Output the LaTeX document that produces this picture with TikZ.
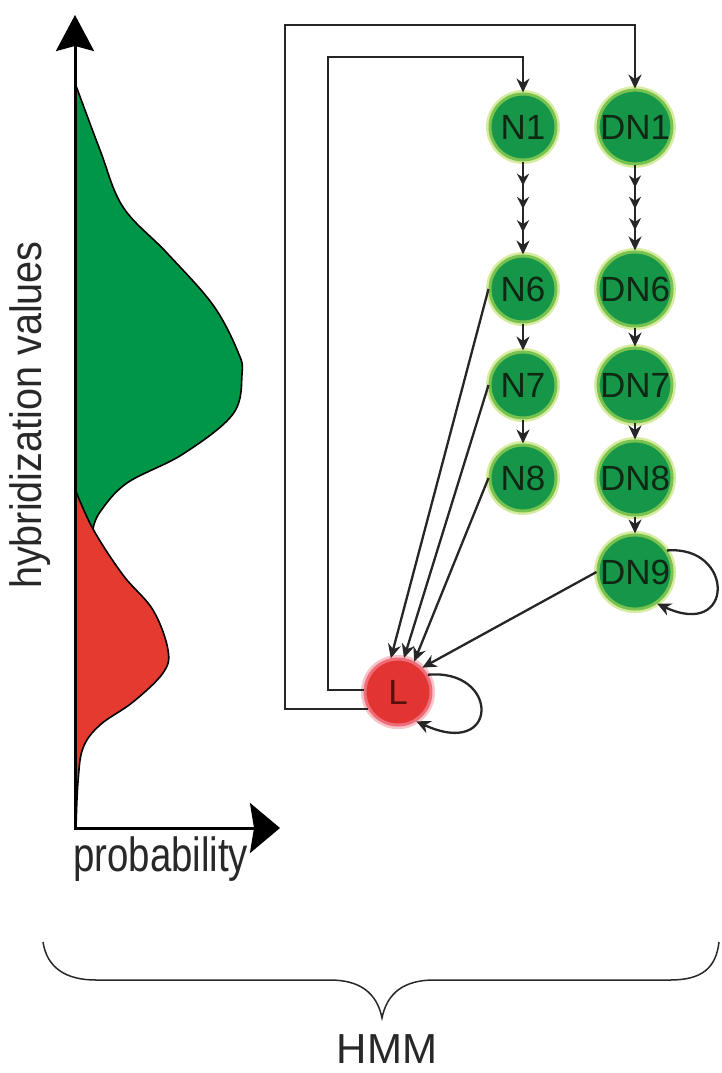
\documentclass[tikz,border=0pt]{standalone}
\usepackage{fontspec}
\setmainfont{Liberation Sans}
\usepackage{graphicx}
\usetikzlibrary{arrows.meta,decorations.markings}
\definecolor{nodegreen}{RGB}{22,150,72}
\definecolor{haloA}{RGB}{120,195,80}
\definecolor{haloB}{RGB}{215,236,160}
\definecolor{curvegreen}{RGB}{0,150,72}
\definecolor{curvered}{RGB}{228,58,48}
\definecolor{nodered}{RGB}{226,52,50}
\definecolor{haloR}{RGB}{238,110,120}
\definecolor{haloRB}{RGB}{250,195,205}
\definecolor{nodetext}{RGB}{15,40,20}
\definecolor{ltext}{RGB}{90,15,15}
\definecolor{labtext}{RGB}{40,40,40}
\begin{document}
\begin{tikzpicture}[x=1pt,y=-1pt,
  st/.style={circle, minimum size=66pt, inner sep=0pt, fill=nodegreen, draw=haloA,
    line width=3pt, preaction={draw=haloB, line width=8pt},
    font=\fontsize{35}{40}\selectfont, text=nodetext},
  lst/.style={st, fill=nodered, draw=haloR, preaction={draw=haloRB, line width=8pt}, text=ltext},
  arr/.style={draw=black!85, line width=2.3pt, -{Stealth[length=14pt,width=13pt]}},
  chain/.style={arr, postaction={decorate}, decoration={markings,
    mark=at position 0.26 with {\arrow{Stealth[length=12pt,width=12pt]}},
    mark=at position 0.51 with {\arrow{Stealth[length=12pt,width=12pt]}},
    mark=at position 0.76 with {\arrow{Stealth[length=12pt,width=12pt]}}}},
  curveline/.style={draw=black, line width=1.6pt, line join=round}
]
\useasboundingbox (0,0) rectangle (721,1073);

% distributions
\fill[curvegreen] (75,83) -- plot[smooth, tension=0.6] coordinates {(75,83) (100,150) (123,207) (167,253) (213,305) (238,352) (242,374) (233,414) (183,454) (127,483) (100,512) (93,529)}
  .. controls (85,515) and (78,500) .. (75,489) -- cycle;
\fill[curvered] (75,489) -- plot[smooth, tension=0.6] coordinates {(75,489) (93,529) (123,575) (153,610) (168,650) (163,673) (133,702) (100,725) (83,748) (78,782) (76,828)} -- (75,828) -- cycle;
\draw[curveline] plot[smooth, tension=0.6] coordinates {(75,83) (100,150) (123,207) (167,253) (213,305) (238,352) (242,374) (233,414) (183,454) (127,483) (100,512) (93,529)};
\draw[curveline] plot[smooth, tension=0.6] coordinates {(75,489) (93,529) (123,575) (153,610) (168,650) (163,673) (133,702) (100,725) (83,748) (78,782) (76,828)};

% axes
\coordinate (Ytip) at (75,15);
\coordinate (O) at (75,828);
\coordinate (Xtip) at (280,828);
\draw[line width=3pt, line join=miter,
  {Stealth[length=36pt,width=38pt,inset=5pt]}-{Stealth[length=30pt,width=50pt,inset=4pt]}]
  (Ytip) -- (O) -- (Xtip);

\node[rotate=90, text=labtext] (ylab) at (30,415) {\fontsize{44}{50}\selectfont\scalebox{0.9}[1]{hybridization values}};
\node[anchor=base west, inner sep=0pt, text=labtext] (xlab) at (73,871) {\fontsize{48}{56}\selectfont\scalebox{0.8}[1]{probability}};

% states
\node[st] (N1) at (523,127) {N1};
\node[st] (DN1) at (635,127) {DN1};
\node[st] (N6) at (523,289) {N6};
\node[st] (DN6) at (635,289) {DN6};
\node[st] (N7) at (523,385) {N7};
\node[st] (DN7) at (635,385) {DN7};
\node[st] (N8) at (523,478) {N8};
\node[st] (DN8) at (635,478) {DN8};
\node[st] (DN9) at (635,572) {DN9};
\node[lst] (L) at (398,692) {L};

\draw[chain] (N1) -- (N6);
\draw[chain] (DN1) -- (DN6);
\draw[arr] (N6) -- (N7);
\draw[arr] (N7) -- (N8);
\draw[arr] (DN6) -- (DN7);
\draw[arr] (DN7) -- (DN8);
\draw[arr] (DN8) -- (DN9);

\draw[arr] (N6.west) -- (L.102);
\draw[arr] (N7.west) -- (L.80);
\draw[arr] (N8.west) -- (L.62);
\draw[arr] (DN9.west) -- (L.45);

\draw[arr] (L.30) .. controls (500,668) and (500,760) .. (L.-58);
\draw[arr] (DN9.34) .. controls (735,545) and (735,640) .. (DN9.-55);

\coordinate (i1) at (328,57);
\coordinate (o1) at (285,25);
\draw[arr] (L.177) -| (i1) -| (N1.north);
\draw[arr] (L.210) -| (o1) -| (DN1.north);

% brace
\draw[line width=1.5pt, draw=labtext] (43,942) .. controls (47,968) and (66,980) .. (96,980) -- (330,980)
  .. controls (360,980) and (377,993) .. (382,1018)
  .. controls (387,993) and (404,980) .. (434,980) -- (670,980)
  .. controls (702,980) and (716,968) .. (719,942);
\node[anchor=base, inner sep=0pt, text=labtext] (hmm) at (387,1063) {\fontsize{42}{50}\selectfont HMM};
\end{tikzpicture}
\end{document}
